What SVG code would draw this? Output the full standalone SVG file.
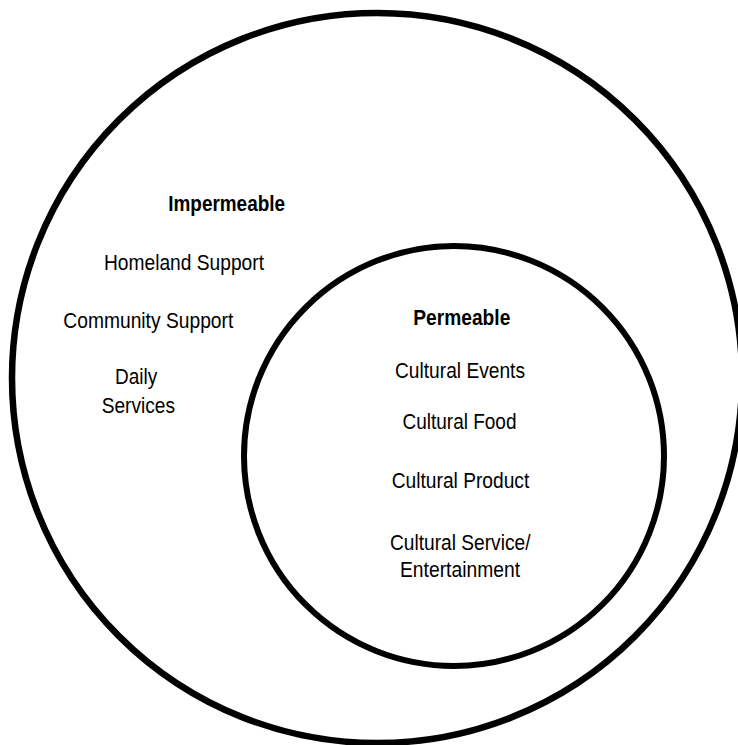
<svg xmlns="http://www.w3.org/2000/svg" width="738" height="745" viewBox="0 0 738 745">
  <style>
    .ring { fill: none; stroke: #000; }
    .label { font-family: "Liberation Sans", Arial, Helvetica, sans-serif; font-size: 22px; fill: #000; }
    .title { font-weight: bold; }
  </style>
  <rect x="0" y="0" width="738" height="745" fill="#fff"/>

  <!-- Outer set: impermeable -->
  <g id="impermeable">
    <circle class="ring" cx="377" cy="378" r="365" stroke-width="6.5"/>
    <text class="label title" x="168.3" y="210.7" textLength="116.7" lengthAdjust="spacingAndGlyphs">Impermeable</text>
    <text class="label" x="104" y="270" textLength="160" lengthAdjust="spacingAndGlyphs">Homeland Support</text>
    <text class="label" x="63.3" y="327.7" textLength="170" lengthAdjust="spacingAndGlyphs">Community Support</text>
    <text class="label" x="115" y="384" textLength="42.3" lengthAdjust="spacingAndGlyphs">Daily</text>
    <text class="label" x="101.7" y="413.3" textLength="73.3" lengthAdjust="spacingAndGlyphs">Services</text>
  </g>

  <!-- Inner set: permeable -->
  <g id="permeable">
    <circle class="ring" cx="454" cy="456" r="210" stroke-width="6"/>
    <text class="label title" x="413.3" y="325" textLength="97" lengthAdjust="spacingAndGlyphs">Permeable</text>
    <text class="label" x="395" y="378" textLength="130" lengthAdjust="spacingAndGlyphs">Cultural Events</text>
    <text class="label" x="402.5" y="429" textLength="114" lengthAdjust="spacingAndGlyphs">Cultural Food</text>
    <text class="label" x="391.7" y="488.3" textLength="137.6" lengthAdjust="spacingAndGlyphs">Cultural Product</text>
    <text class="label" x="390" y="550" textLength="140.5" lengthAdjust="spacingAndGlyphs">Cultural Service/</text>
    <text class="label" x="400" y="576.7" textLength="120" lengthAdjust="spacingAndGlyphs">Entertainment</text>
  </g>
</svg>
